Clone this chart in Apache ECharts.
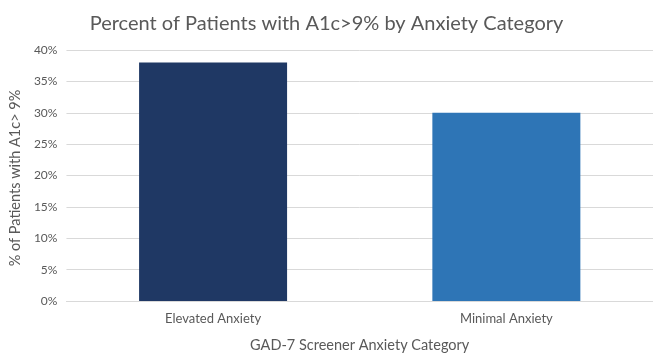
<!DOCTYPE html>
<html>
<head>
<meta charset="utf-8">
<script src="https://cdn.jsdelivr.net/npm/echarts@6/dist/echarts.min.js"></script>
<style>
  html, body { margin: 0; padding: 0; background: #fff; }
  #chart { width: 653px; height: 358px; }
</style>
</head>
<body>
<div id="chart"></div>
<script>
// Share of patients with A1c above 9%, grouped by GAD-7 anxiety screen result
const categories = ['Elevated Anxiety', 'Minimal Anxiety'];
const percentA1cOver9 = [38, 30];
const barColors = ['#1F3864', '#2E75B6'];
const yTicks = [0, 5, 10, 15, 20, 25, 30, 35, 40];

const FONT = 'Lato, "Open Sans", sans-serif';
const chart = echarts.init(document.getElementById('chart'), null, { renderer: 'canvas' });

chart.setOption({
  animation: false,
  backgroundColor: '#ffffff',
  title: {
    text: 'Percent of Patients with A1c>9% by Anxiety Category',
    left: 'center',
    top: 9,
    textStyle: { fontFamily: FONT, fontSize: 20, fontWeight: 'normal', color: '#595959' }
  },
  grid: { left: 66, right: 0, top: 50, bottom: 52, containLabel: false },
  xAxis: {
    type: 'category',
    data: categories,
    name: 'GAD-7 Screener Anxiety Category',
    nameLocation: 'middle',
    nameGap: 37,
    nameTextStyle: { fontFamily: FONT, fontSize: 14.5, color: '#595959' },
    axisLine: { show: true, lineStyle: { color: '#D9D9D9', width: 1 } },
    axisTick: { show: false },
    axisLabel: { fontFamily: FONT, fontSize: 13, color: '#595959', margin: 11 }
  },
  yAxis: {
    type: 'value',
    min: yTicks[0],
    max: yTicks[yTicks.length - 1],
    interval: 5,
    name: '% of Patients with A1c> 9%',
    nameLocation: 'middle',
    nameGap: 43,
    nameRotate: 90,
    nameTextStyle: { fontFamily: FONT, fontSize: 14.5, color: '#595959', padding: [0, 5, 0, 0] },
    axisLine: { show: false },
    axisTick: { show: false },
    axisLabel: { fontFamily: FONT, fontSize: 12, color: '#595959', margin: 9, formatter: '{value}%' },
    splitLine: { lineStyle: { color: '#D9D9D9', width: 1 } }
  },
  series: [{
    type: 'bar',
    data: percentA1cOver9.map((v, i) => ({ value: v, itemStyle: { color: barColors[i] } })),
    barWidth: 148
  }]
});
</script>
</body>
</html>
